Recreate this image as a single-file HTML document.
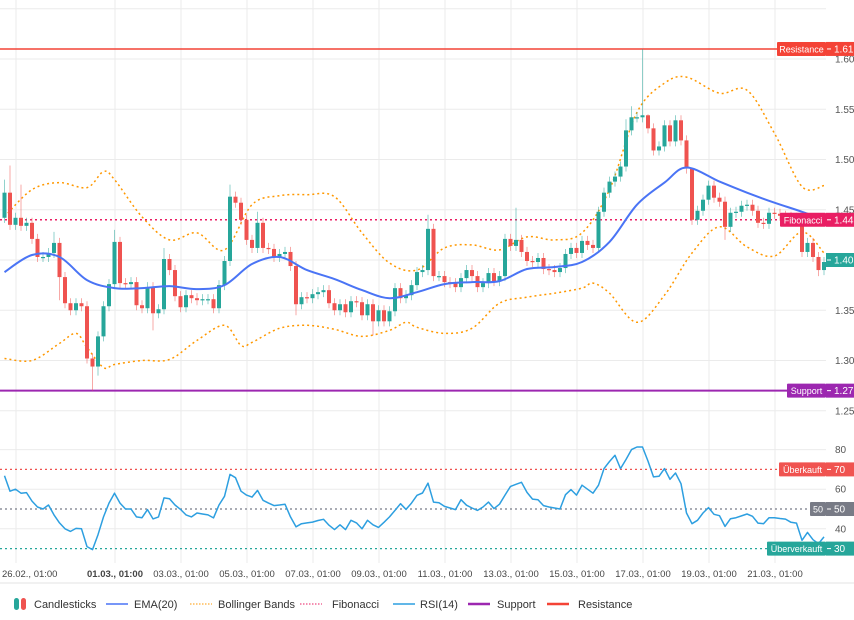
<!DOCTYPE html>
<html><head><meta charset="utf-8">
<style>
html,body{margin:0;padding:0;background:#fff;}
svg{display:block;font-family:"Liberation Sans",sans-serif;}
</style></head>
<body>
<svg id="chart" width="854" height="620" viewBox="0 0 854 620" xmlns="http://www.w3.org/2000/svg">
<rect x="0" y="0" width="854" height="620" fill="#fff"/>
<g id="grid"></g>
<g id="bands"></g>
<g id="levels"></g>
<g id="candles"></g>
<g id="ema"></g>
<g id="rsi"></g>
<g id="axis"></g>
<g id="legend"></g>
</svg>
<script>
const closes=[1.467,1.435,1.442,1.434,1.437,1.421,1.403,1.403,1.407,1.417,1.383,1.357,1.350,1.357,1.354,1.302,1.294,1.324,1.354,1.376,1.418,1.377,1.376,1.378,1.355,1.352,1.373,1.347,1.351,1.401,1.390,1.364,1.353,1.365,1.362,1.360,1.361,1.361,1.352,1.375,1.399,1.463,1.457,1.440,1.420,1.412,1.437,1.412,1.411,1.403,1.406,1.408,1.394,1.356,1.363,1.362,1.366,1.368,1.370,1.357,1.350,1.356,1.348,1.359,1.358,1.345,1.356,1.339,1.350,1.339,1.349,1.372,1.362,1.365,1.375,1.388,1.390,1.431,1.384,1.384,1.378,1.377,1.373,1.382,1.390,1.384,1.373,1.377,1.387,1.379,1.384,1.421,1.414,1.420,1.408,1.399,1.398,1.402,1.391,1.390,1.388,1.392,1.406,1.412,1.407,1.419,1.415,1.412,1.448,1.467,1.478,1.483,1.493,1.529,1.542,1.542,1.544,1.531,1.509,1.513,1.534,1.518,1.539,1.519,1.491,1.440,1.449,1.460,1.474,1.462,1.458,1.433,1.447,1.448,1.454,1.455,1.449,1.437,1.436,1.447,1.446,1.444,1.443,1.442,1.440,1.408,1.417,1.403,1.390,1.398];
const firstOpen=1.442;
const highOverrides={0:1.48,1:1.494,3:1.475,9:1.428,20:1.43,29:1.412,41:1.475,46:1.448,77:1.445,93:1.452,113:1.54,114:1.553,116:1.61,117:1.545,125:1.492};
const lowOverrides={16:1.27,17:1.285,10:1.36,27:1.33,53:1.345,67:1.325,131:1.42,148:1.384};
const emaIdx=[0,5,10,15,20,25,30,35,40,45,50,55,60,65,70,75,80,85,90,95,100,105,110,115,120,124,130,135,140,145,149];
const emaVal=[1.388,1.405,1.403,1.380,1.372,1.372,1.374,1.371,1.375,1.396,1.403,1.390,1.381,1.370,1.362,1.368,1.376,1.378,1.379,1.391,1.393,1.398,1.418,1.455,1.477,1.492,1.478,1.467,1.457,1.448,1.440];
const upIdx=[0,5,10,15,18,20,25,30,35,40,45,50,55,60,65,70,75,80,85,90,95,100,105,110,115,120,124,130,135,140,145,149];
const upVal=[1.443,1.470,1.477,1.472,1.488,1.480,1.443,1.420,1.427,1.410,1.455,1.464,1.465,1.463,1.427,1.397,1.390,1.412,1.415,1.410,1.423,1.420,1.427,1.470,1.547,1.576,1.582,1.566,1.569,1.526,1.473,1.474];
const loIdx=[0,5,10,13,15,18,20,25,30,35,40,43,45,50,55,60,65,70,73,75,80,85,90,95,100,105,107,110,115,120,125,130,135,140,145,149];
const loVal=[1.302,1.300,1.317,1.327,1.313,1.293,1.296,1.300,1.301,1.320,1.335,1.315,1.318,1.332,1.335,1.331,1.324,1.330,1.338,1.333,1.327,1.332,1.357,1.363,1.367,1.372,1.377,1.367,1.338,1.365,1.407,1.433,1.413,1.404,1.428,1.407];
const rsiVals=[66.8,59,60,58,58.3,54,51,50,52,47,43,40,38.7,40.2,40,31,29.5,37,46,53,58,53,50,50,46,45.6,49.7,45,46,55.6,55.2,52,49.8,47,46,48,47.5,47,45.5,52,56.4,67.5,65.8,59,57,56,59.4,54.4,53,51.7,52,52.4,46,41,42.6,43,43.4,44.2,44.8,41.8,39.6,42,39.6,44.3,43,40,44.3,42,40.7,43.3,46,49.3,52.7,49.8,53,56.9,58.1,63.1,53.5,53.2,51.3,50.5,49.7,54.7,51.9,50.5,49.3,51,53.5,50.2,52.4,57,61.4,62.5,63.5,58.4,55,54.7,51.7,51,50.5,50,57.2,59.8,57,62,60,58,62,70.4,74,77.1,70.4,75,80,81.3,81.3,74.2,66.2,66.5,70.4,65,68.2,62.8,48,42.6,44.3,48,50.7,47.3,46.6,41.2,45.1,45.6,46.5,47.5,46.3,42.9,42.6,45.6,45.6,45.2,44.9,43.3,42.9,34.2,38.2,34.5,32.5,35.9];
const priceTicks=[1.65,1.60,1.55,1.50,1.45,1.40,1.35,1.30,1.25];
const priceTickLabels=["","1.60","1.55","1.50","1.45","","1.35","1.30","1.25"];
const rsiTicks=[80,60,40];
const dateDays=[0,3,5,7,9,11,13,15,17,19,21,23];
const dateLabels=["26.02., 01:00","01.03., 01:00","03.03., 01:00","05.03., 01:00","07.03., 01:00","09.03., 01:00","11.03., 01:00","13.03., 01:00","15.03., 01:00","17.03., 01:00","19.03., 01:00","21.03., 01:00"];
const resistance=1.61, fibonacci=1.44, support=1.27, lastPrice=1.40;
const rsiLevels=[70,50,30];

const NS="http://www.w3.org/2000/svg";
const xOf=i=>4.5+5.5*i;
const py=p=>260-(p-1.40)*1005;
const ry=v=>509-(v-50)*1.98;
const dx=d=>16+d*33;
function mk(parent,tag,attrs,txt){const e=document.createElementNS(NS,tag);for(const k in attrs)e.setAttribute(k,attrs[k]);if(txt!==undefined)e.textContent=txt;parent.appendChild(e);return e;}
const G=id=>document.getElementById(id);

// grid
const grid=G('grid');
priceTicks.forEach(t=>{const l=mk(grid,'line',{x1:0,x2:826,y1:py(t),y2:py(t),stroke:'#ebebeb','stroke-width':1});

});
rsiTicks.forEach(t=>{const l=mk(grid,'line',{x1:0,x2:826,y1:ry(t),y2:ry(t),stroke:'#ebebeb','stroke-width':1});

});
dateDays.forEach(d=>{const l=mk(grid,'line',{x1:dx(d),x2:dx(d),y1:0,y2:563,stroke:'#ebebeb','stroke-width':1});

});
const sep=mk(grid,'line',{x1:0,x2:854,y1:583,y2:583,stroke:'#e3e3e3','stroke-width':1});



function smoothPath(idx,vals,f){
  const pts=idx.map((ix,k)=>[xOf(ix),f(vals[k])]);
  let d='M'+pts[0][0].toFixed(1)+','+pts[0][1].toFixed(1);
  for(let k=0;k<pts.length-1;k++){
    const p0=pts[k-1]||pts[k],p1=pts[k],p2=pts[k+1],p3=pts[k+2]||p2;
    const c1x=p1[0]+(p2[0]-p0[0])/6,c1y=p1[1]+(p2[1]-p0[1])/6;
    const c2x=p2[0]-(p3[0]-p1[0])/6,c2y=p2[1]-(p3[1]-p1[1])/6;
    d+=' C'+c1x.toFixed(1)+','+c1y.toFixed(1)+' '+c2x.toFixed(1)+','+c2y.toFixed(1)+' '+p2[0].toFixed(1)+','+p2[1].toFixed(1);
  }
  return d;
}
// bands
const bands=G('bands');
const ub=mk(bands,'path',{d:smoothPath(upIdx,upVal,py),fill:'none',stroke:'#ff9800','stroke-width':1.5,'stroke-dasharray':'2 3'});


const lb=mk(bands,'path',{d:smoothPath(loIdx,loVal,py),fill:'none',stroke:'#ff9800','stroke-width':1.5,'stroke-dasharray':'2 3'});



// levels
const lv=G('levels');
const rl=mk(lv,'line',{x1:0,x2:826,y1:py(resistance),y2:py(resistance),stroke:'#f44336','stroke-width':1.5});


const fl=mk(lv,'line',{x1:0,x2:826,y1:py(fibonacci),y2:py(fibonacci),stroke:'#e91e63','stroke-width':1.5,'stroke-dasharray':'2 3'});


const sl=mk(lv,'line',{x1:0,x2:826,y1:py(support),y2:py(support),stroke:'#9c27b0','stroke-width':2});


const rc=['#ef5350','#787b86','#26a69a'];
rsiLevels.forEach((v,k)=>{const l=mk(lv,'line',{x1:0,x2:826,y1:ry(v),y2:ry(v),stroke:rc[k],'stroke-width':1.3,'stroke-dasharray':'2 3'});

});

// candles
const cg=G('candles');
closes.forEach((c,i)=>{
  const o=i===0?firstOpen:closes[i-1];
  const up=c>=o;
  const col=up?'#26a69a':'#ef5350';
  const hi=highOverrides[i]!==undefined?highOverrides[i]:Math.max(o,c)+0.005;
  const lo=lowOverrides[i]!==undefined?lowOverrides[i]:Math.min(o,c)-0.005;
  const x=xOf(i);
  const w=mk(cg,'line',{x1:x,x2:x,y1:py(hi),y2:py(lo),stroke:col,'stroke-opacity':0.5,'stroke-width':1});
  
  
  const top=py(Math.max(o,c)),bot=py(Math.min(o,c));
  const b=mk(cg,'rect',{x:x-2,y:top,width:4,height:Math.max(1.2,bot-top),fill:col});
  
  
});

// ema
const em=mk(G('ema'),'path',{d:smoothPath(emaIdx,emaVal,py),fill:'none',stroke:'#4a74f5','stroke-width':2,'stroke-linejoin':'round'});



// rsi
const rp=mk(G('rsi'),'path',{d:rsiVals.map((v,i)=>(i?'L':'M')+xOf(i).toFixed(1)+','+ry(v).toFixed(1)).join(' '),fill:'none',stroke:'#2d9fe0','stroke-width':1.5,'stroke-linejoin':'round'});



// axis labels
const ax=G('axis');
priceTicks.forEach((t,k)=>{if(!priceTickLabels[k])return;const e=mk(ax,'text',{x:835,y:py(t)+3.5,'font-size':10,fill:'#555'},priceTickLabels[k]);

});
rsiTicks.forEach(t=>{const e=mk(ax,'text',{x:835,y:ry(t)+3.5,'font-size':10,fill:'#555'},String(t));

});
dateDays.forEach((d,k)=>{const x=k===0?2:dx(d);const e=mk(ax,'text',{x:x,y:577,'font-size':9.5,fill:'#444','text-anchor':k===0?'start':'middle','font-weight':k===1?'bold':'normal'},dateLabels[k]);

});

function tag(name,label,val,yc,col,lx){
  const g=mk(ax,'g',{});
  
  
  if(label){mk(g,'rect',{x:lx,y:yc-7,width:826-lx,height:14,fill:col,rx:1});
    mk(g,'text',{x:(lx+826)/2,y:yc+3.5,'font-size':9,fill:'#fff','text-anchor':'middle'},label);}
  mk(g,'rect',{x:826,y:yc-7,width:28,height:14,fill:col});
  mk(g,'line',{x1:827,x2:831,y1:yc,y2:yc,stroke:'#fff','stroke-width':1});
  mk(g,'text',{x:834,y:yc+3.5,'font-size':10,fill:'#fff'},val);
}
tag('resistance-tag','Resistance',resistance.toFixed(2),py(resistance),'#f44336',777);
tag('fibonacci-tag','Fibonacci',fibonacci.toFixed(2),py(fibonacci),'#e91e63',780);
tag('last-price-tag','',lastPrice.toFixed(2),py(lastPrice),'#26a69a',826);
tag('support-tag','Support',support.toFixed(2),py(support),'#9c27b0',787);
tag('overbought-tag','Überkauft','70',ry(70),'#f05350',779);
tag('midline-tag','50','50',ry(50),'#787b86',810);
tag('oversold-tag','Überverkauft','30',ry(30),'#26a69a',767);

// legend
const lg=G('legend');
const items=[['Candlesticks','candle',14,34],['EMA(20)','#4a74f5',106,134],['Bollinger Bands','#ff9800',190,218],['Fibonacci','#e91e63',300,332],['RSI(14)','#2d9fe0',393,420],['Support','#9c27b0',468,497],['Resistance','#f44336',547,578]];
items.forEach((it,k)=>{
  const g=mk(lg,'g',{});
  
  
  if(it[1]==='candle'){mk(g,'rect',{x:14,y:598,width:5,height:12,rx:2.5,fill:'#26a69a'});mk(g,'rect',{x:21,y:598,width:5,height:12,rx:2.5,fill:'#ef5350'});}
  else{const dashed=(k===2||k===3);const thick=(k>=5)?2.5:1.5;
    const a={x1:it[2],x2:it[2]+22,y1:604,y2:604,stroke:it[1],'stroke-width':dashed?1:thick};if(dashed)a['stroke-dasharray']='1.5 1.5';mk(g,'line',a);}
  mk(g,'text',{x:it[3],y:608,'font-size':11,fill:'#333'},it[0]);
});
</script>
</body></html>
